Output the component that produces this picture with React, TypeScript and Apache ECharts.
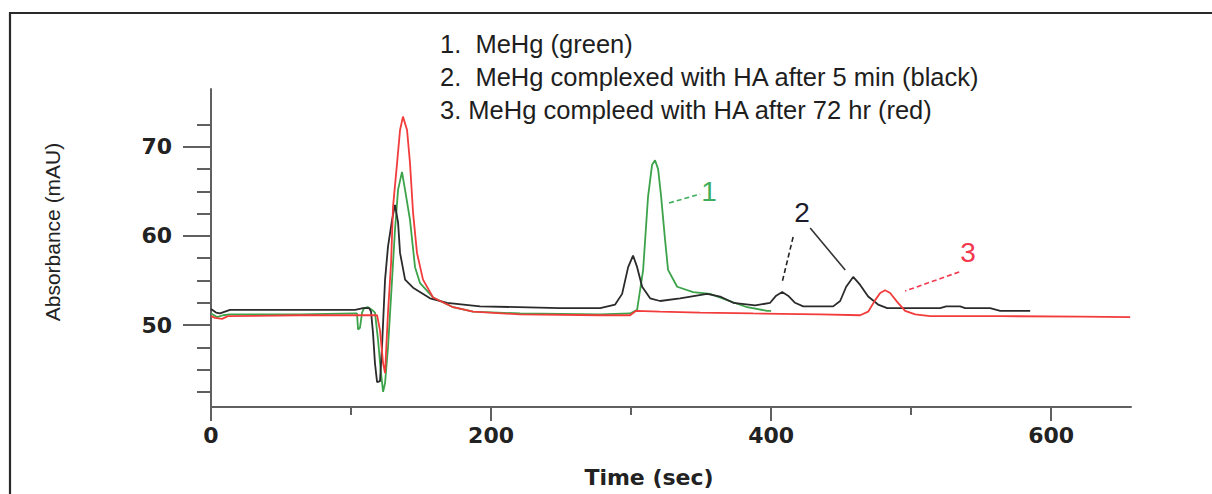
import React, { useEffect, useRef } from "react";
import * as echarts from "echarts";

// ---- axis ticks / labels ----
const xMajorTicks = [0, 200, 400, 600];
const xMinorTicks = [100, 300, 500];
const yMajorTicks = [50, 60, 70];
const yMinorTicks = [42.5, 45, 47.5, 52.5, 55, 57.5, 62.5, 65, 67.5, 72.5];
const xRange = [0, 657];
const yRange = [40.8, 76.5];
const xTitle = "Time (sec)";
const yTitle = "Absorbance (mAU)";

// ---- traces: [time (sec), absorbance (mAU)] ----
const greenTrace: [number, number][] = [
  [0, 51.3], [4.3, 50.9], [8.6, 51.1], [13.6, 51.2], [63.6, 51.2], [102.9, 51.3],
  [104.3, 51.3], [105, 49.5], [106.4, 49.7], [107.9, 51.4], [109.3, 51.9], [112.1, 52.0],
  [115, 51.7], [117.1, 51.4], [119.3, 48.3], [121.4, 44.6], [122.9, 42.5], [124.3, 43.5],
  [126.4, 47.5], [129.3, 55.1], [131.4, 60.7], [133.6, 65.2], [136.4, 67.2], [139.3, 64.5],
  [142.1, 61.8], [145.7, 56.5], [149.3, 54.7], [158.6, 53.1], [172.9, 52.0], [187.1, 51.5],
  [220.7, 51.3], [277.9, 51.2], [299.3, 51.3], [304.3, 51.7], [308.6, 56.2], [312.1, 64.4],
  [315, 68.0], [317.1, 68.5], [319.3, 67.5], [321.4, 64.5], [324.3, 59.5], [326.4, 56.2],
  [332.9, 54.3], [344.3, 53.7], [356.4, 53.5], [368.6, 52.8], [382.9, 52.0], [397.1, 51.6],
  [400, 51.6],
];

const blackTrace: [number, number][] = [
  [0, 51.8], [3.6, 51.4], [6.4, 51.3], [10, 51.5], [13.6, 51.7], [63.6, 51.7],
  [102.9, 51.7], [108.6, 51.9], [112.9, 51.9], [114.3, 51.5], [115.7, 49.1], [117.1, 45.7],
  [118.6, 43.6], [120.7, 43.7], [122.1, 47.5], [124.3, 55.1], [126.4, 58.8], [129.3, 61.8],
  [131.4, 63.5], [133.6, 61.5], [135, 58.1], [138.6, 55.1], [144.3, 54.2], [156.4, 53.0],
  [168.6, 52.5], [192.1, 52.1], [249.3, 51.9], [277.9, 51.9], [288.6, 52.3], [293.6, 53.5],
  [297.9, 56.5], [301.4, 57.8], [304.3, 56.5], [307.9, 54.3], [313.6, 53.0], [320.7, 52.7],
  [335, 53.0], [354.3, 53.5], [363.6, 53.2], [372.9, 52.5], [388.6, 52.2], [399.3, 52.5],
  [403.6, 53.3], [407.9, 53.7], [412.1, 53.3], [417.1, 52.5], [422.9, 52.1], [444.3, 52.1],
  [449.3, 52.7], [453.6, 54.3], [458.6, 55.4], [463.6, 54.5], [469.3, 53.2], [476.4, 52.3],
  [482.9, 51.9], [520.7, 51.9], [525, 52.1], [535, 52.1], [538.6, 51.9], [556.4, 51.9],
  [563.6, 51.6], [585, 51.6],
];

const redTrace: [number, number][] = [
  [0, 51.0], [2.9, 50.8], [7.9, 50.7], [12.1, 51.0], [63.6, 51.1], [113.6, 51.1],
  [118.6, 51.1], [120.7, 49.4], [122.9, 45.7], [124.3, 44.6], [126.4, 51.4], [128.6, 57.0],
  [130, 63.3], [132.9, 68.2], [135, 71.9], [137.1, 73.4], [140, 71.9], [142.1, 68.2],
  [144.3, 62.6], [147.1, 58.1], [151.4, 55.1], [158.6, 53.1], [172.9, 52.0], [187.1, 51.5],
  [220.7, 51.2], [277.9, 51.1], [299.3, 51.1], [303.6, 51.6], [320.7, 51.5], [349.3, 51.4],
  [387.1, 51.3], [435, 51.2], [463.6, 51.1], [469.3, 51.5], [474.3, 52.8], [477.9, 53.6],
  [481.4, 53.9], [485, 53.6], [490, 52.6], [495.7, 51.6], [502.9, 51.2], [513.6, 51.0],
  [563.6, 51.0], [620.7, 50.95], [656.4, 50.9],
];

// ---- notes ----
const noteLines = [
  "1.  MeHg (green)",
  "2.  MeHg complexed with HA after 5 min (black)",
  "3. MeHg compleed with HA after 72 hr (red)",
];

// annotation labels & leader lines in data coordinates
const peakLabels: { text: string; at: [number, number]; color: string }[] = [
  { text: "1", at: [355.7, 64.94], color: "#3fae5c" },
  { text: "2", at: [422.1, 62.58], color: "#1c1c2c" },
  { text: "3", at: [540.7, 58.09], color: "#f2384e" },
];
const leaderLines: { from: [number, number]; to: [number, number]; color: string; dashed: boolean }[] = [
  { from: [327.1, 63.7], to: [349.3, 64.71], color: "#3fae5c", dashed: true },
  { from: [415.7, 59.88], to: [407.9, 54.83], color: "#222222", dashed: true },
  { from: [427.9, 60.89], to: [452.9, 56.18], color: "#333333", dashed: false },
  { from: [534.3, 55.96], to: [495.7, 53.82], color: "#f2384e", dashed: true },
];

const AXIS_COLOR = "#606060";
const TICK_FONT = "DejaVu Sans";

export default function App() {
  const ref = useRef<HTMLDivElement>(null);

  useEffect(() => {
    if (!ref.current) return;
    document.body.style.margin = "0";
    document.body.style.overflow = "hidden";
    const chart = echarts.init(ref.current, undefined, { renderer: "svg" });

    const baseX = {
      type: "value" as const,
      min: xRange[0],
      max: xRange[1],
      position: "bottom" as const,
      splitLine: { show: false },
    };
    const baseY = {
      type: "value" as const,
      min: yRange[0],
      max: yRange[1],
      position: "left" as const,
      splitLine: { show: false },
    };

    const option: any = {
      animation: false,
      backgroundColor: "#ffffff",
      grid: { left: 211, right: 81, top: 89, bottom: 87, containLabel: false },
      xAxis: [
        {
          ...baseX,
          axisLine: { show: true, onZero: false, lineStyle: { color: AXIS_COLOR, width: 2 } },
          axisTick: { show: true, customValues: xMajorTicks, length: 14, lineStyle: { color: AXIS_COLOR, width: 2 } },
          axisLabel: {
            show: true,
            customValues: xMajorTicks,
            margin: 17,
            color: "#222",
            fontFamily: TICK_FONT,
            fontWeight: "bold",
            fontSize: 22,
          },
          name: xTitle,
          nameLocation: "middle",
          nameGap: 59,
          nameTextStyle: {
            color: "#222",
            fontFamily: TICK_FONT,
            fontWeight: "bold",
            fontSize: 22,
            padding: [0, 44, 0, 0],
          },
        },
        {
          ...baseX,
          axisLine: { show: false, onZero: false },
          axisTick: { show: true, customValues: xMinorTicks, length: 8, lineStyle: { color: AXIS_COLOR, width: 2 } },
          axisLabel: { show: false },
        },
      ],
      yAxis: [
        {
          ...baseY,
          axisLine: { show: true, onZero: false, lineStyle: { color: AXIS_COLOR, width: 2 } },
          axisTick: { show: true, customValues: yMajorTicks, length: 28, lineStyle: { color: AXIS_COLOR, width: 2 } },
          axisLabel: {
            show: true,
            customValues: yMajorTicks,
            margin: 39,
            color: "#222",
            fontFamily: TICK_FONT,
            fontWeight: "bold",
            fontSize: 22,
          },
          name: yTitle,
          nameLocation: "middle",
          nameGap: 148,
          nameRotate: 90,
          nameTextStyle: {
            color: "#222",
            fontFamily: "Liberation Sans",
            fontSize: 21,
            padding: [0, 0, 0, 32],
          },
        },
        {
          ...baseY,
          axisLine: { show: false, onZero: false },
          axisTick: { show: true, customValues: yMinorTicks, length: 14, lineStyle: { color: AXIS_COLOR, width: 2 } },
          axisLabel: { show: false },
        },
      ],
      series: [
        {
          name: "MeHg (green)",
          type: "line",
          data: greenTrace,
          showSymbol: false,
          symbol: "none",
          lineStyle: { color: "#3ca34a", width: 1.8 },
          z: 2,
        },
        {
          name: "MeHg + HA 5 min (black)",
          type: "line",
          data: blackTrace,
          showSymbol: false,
          symbol: "none",
          lineStyle: { color: "#2b2b2b", width: 1.8 },
          z: 3,
        },
        {
          name: "MeHg + HA 72 hr (red)",
          type: "line",
          data: redTrace,
          showSymbol: false,
          symbol: "none",
          lineStyle: { color: "#f23c3c", width: 1.8 },
          z: 4,
        },
      ],
    };

    chart.setOption(option);

    const toPx = (p: [number, number]) => chart.convertToPixel({ gridIndex: 0 }, p) as number[];

    const graphics: any[] = [
      {
        type: "line",
        silent: true,
        shape: { x1: 9, y1: 13, x2: 1300, y2: 13 },
        style: { stroke: "#2a2a2a", lineWidth: 2.2 },
      },
      {
        type: "line",
        silent: true,
        shape: { x1: 10, y1: 12, x2: 10, y2: 600 },
        style: { stroke: "#2a2a2a", lineWidth: 2.2 },
      },
      ...noteLines.map((t, i) => ({
        type: "text",
        silent: true,
        x: 440,
        y: 44 + i * 33,
        style: {
          text: t,
          fill: "#1e1e1e",
          font: '25.5px "Liberation Sans"',
          textAlign: "left",
          align: "left",
          textVerticalAlign: "middle",
          verticalAlign: "middle",
        },
      })),
      ...leaderLines.map((l) => {
        const a = toPx(l.from);
        const b = toPx(l.to);
        return {
          type: "line",
          silent: true,
          shape: { x1: a[0], y1: a[1], x2: b[0], y2: b[1] },
          style: { stroke: l.color, lineWidth: 1.6, lineDash: l.dashed ? [5, 3] : null },
          z: 10,
        };
      }),
      ...peakLabels.map((p) => {
        const c = toPx(p.at);
        return {
          type: "text",
          silent: true,
          x: c[0],
          y: c[1],
          style: {
            text: p.text,
            fill: p.color,
            font: '28px "Liberation Sans"',
            textAlign: "center",
            align: "center",
            textVerticalAlign: "middle",
            verticalAlign: "middle",
          },
          z: 10,
        };
      }),
    ];

    chart.setOption({ graphic: graphics });

    return () => {
      chart.dispose();
    };
  }, []);

  return (
    <div
      ref={ref}
      style={{ position: "absolute", left: 0, top: 0, width: 1212, height: 494, background: "#fff" }}
    />
  );
}
